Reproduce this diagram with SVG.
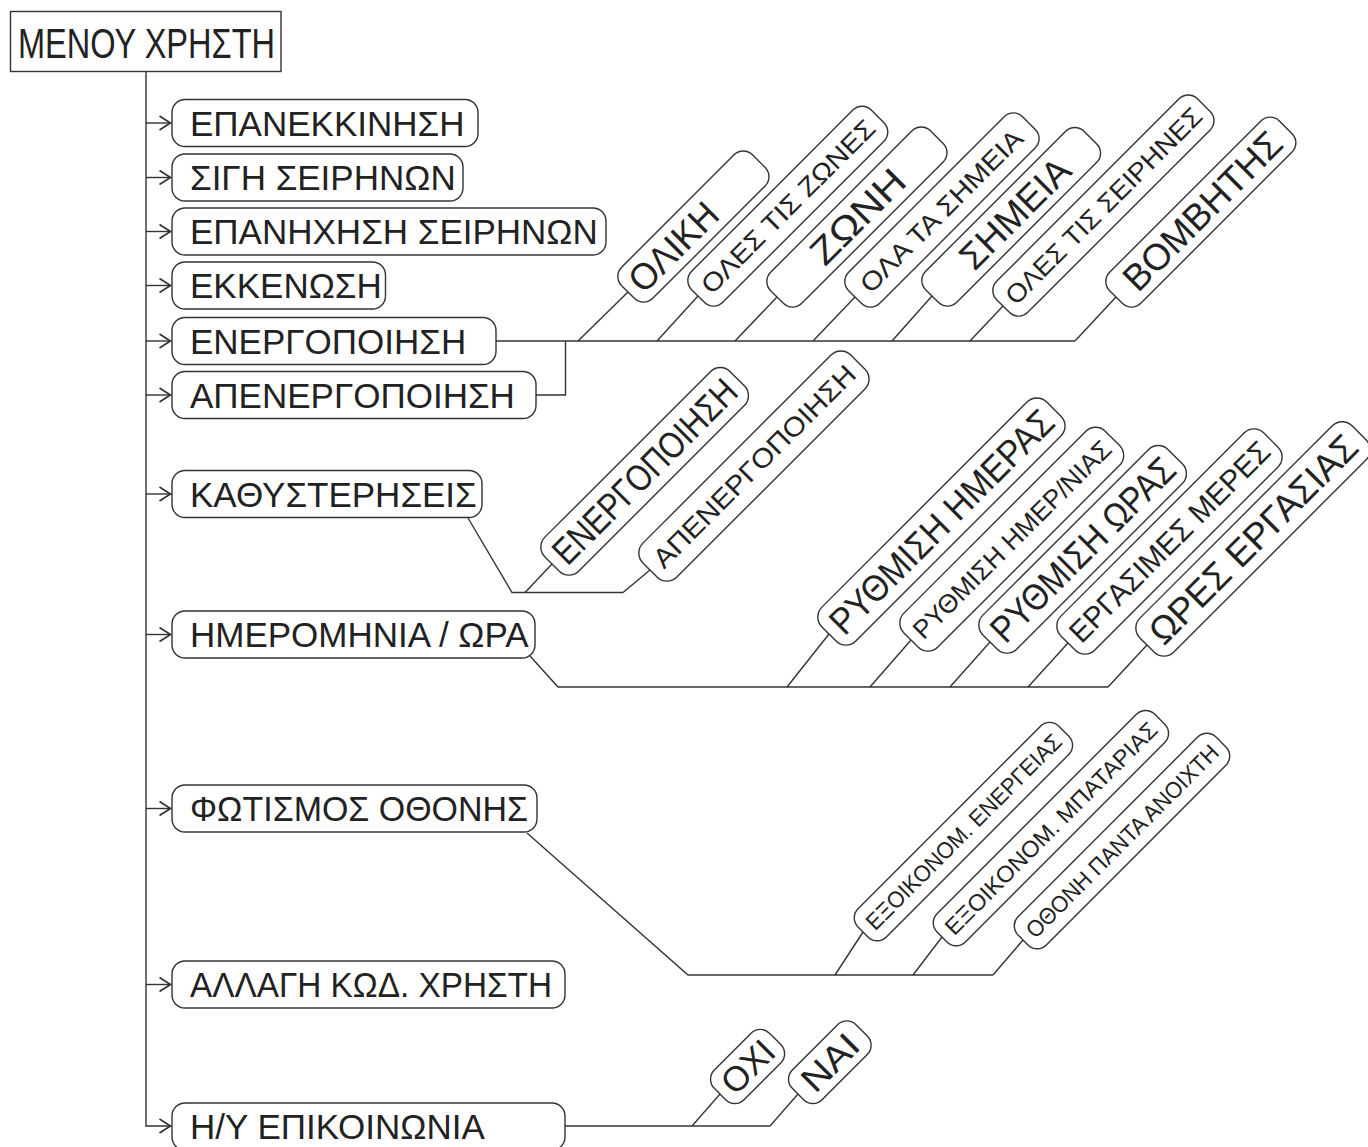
<svg xmlns="http://www.w3.org/2000/svg" width="1368" height="1147" viewBox="0 0 1368 1147">
<style>
.bg{fill:#fff}
.hdr{fill:#fff;stroke:#333;stroke-width:1.4}
.box{fill:#fff;stroke:#333;stroke-width:1.4}
.lbl{font-family:"Liberation Sans",Arial,sans-serif;font-size:35px;fill:#222}
.rl{font-family:"Liberation Sans",Arial,sans-serif;fill:#222}
.conn{fill:none;stroke:#333;stroke-width:1.4}
</style>
<defs>
<marker id="arr" viewBox="0 0 13 16" refX="12.5" refY="8" markerWidth="13" markerHeight="16" markerUnits="userSpaceOnUse" orient="auto">
<path d="M1,1 L12,8 L1,15" fill="none" stroke="#333" stroke-width="1.8"/>
</marker>
</defs>
<rect class="bg" x="0" y="0" width="1368" height="1147"/>

<g id="connectors">
<path class="conn" d="M146,72 V1126 H171" marker-end="url(#arr)"/>
<path class="conn" d="M146,123 H171" marker-end="url(#arr)"/>
<path class="conn" d="M146,177.5 H171" marker-end="url(#arr)"/>
<path class="conn" d="M146,231.5 H171" marker-end="url(#arr)"/>
<path class="conn" d="M146,285.5 H171" marker-end="url(#arr)"/>
<path class="conn" d="M146,341 H171" marker-end="url(#arr)"/>
<path class="conn" d="M146,395 H171" marker-end="url(#arr)"/>
<path class="conn" d="M146,494 H171" marker-end="url(#arr)"/>
<path class="conn" d="M146,634.5 H171" marker-end="url(#arr)"/>
<path class="conn" d="M146,808.5 H171" marker-end="url(#arr)"/>
<path class="conn" d="M146,984.5 H171" marker-end="url(#arr)"/>

<path class="conn" d="M496,341 H1075"/>
<path class="conn" d="M536,395 H565.5 V341"/>
<path class="conn" d="M578,341 L628,292"/>
<path class="conn" d="M657,341 L698,296"/>
<path class="conn" d="M735,341 L777,297"/>
<path class="conn" d="M813,341 L855,297"/>
<path class="conn" d="M892,341 L932,296"/>
<path class="conn" d="M970,341 L1003,306"/>
<path class="conn" d="M1075,341 L1116,297"/>

<path class="conn" d="M468,518 L512,592.5 H623"/>
<path class="conn" d="M525,592.5 L552,564"/>
<path class="conn" d="M623,592.5 L650,570"/>

<path class="conn" d="M530,656 L558,687 H1108"/>
<path class="conn" d="M787,687 L829,634"/>
<path class="conn" d="M870,687 L911,640"/>
<path class="conn" d="M950,687 L990,642"/>
<path class="conn" d="M1028,687 L1068,643"/>
<path class="conn" d="M1108,687 L1147,645"/>

<path class="conn" d="M527,833 L688,975 H993"/>
<path class="conn" d="M835,975 L863,932"/>
<path class="conn" d="M913,975 L942,937"/>
<path class="conn" d="M993,975 L1023,940"/>

<path class="conn" d="M565,1126 H770"/>
<path class="conn" d="M692,1126 L720,1094"/>
<path class="conn" d="M770,1126 L798,1094"/>
</g>

<g id="header">
<rect class="hdr" x="10.5" y="11.5" width="270.5" height="60"/>
<text class="lbl" x="18" y="57.5" style="font-size:42px" textLength="257" lengthAdjust="spacingAndGlyphs">ΜΕΝΟΥ ΧΡΗΣΤΗ</text>
</g>

<g id="n1"><rect class="box" x="172" y="99.5" width="306" height="47" rx="13"/><text class="lbl" x="190" y="135.5">ΕΠΑΝΕΚΚΙΝΗΣΗ</text></g>
<g id="n2"><rect class="box" x="172" y="154" width="291" height="47" rx="13"/><text class="lbl" x="190" y="190">ΣΙΓΗ ΣΕΙΡΗΝΩΝ</text></g>
<g id="n3"><rect class="box" x="172" y="208" width="434" height="47" rx="13"/><text class="lbl" x="190" y="244">ΕΠΑΝΗΧΗΣΗ ΣΕΙΡΗΝΩΝ</text></g>
<g id="n4"><rect class="box" x="172" y="262" width="213.5" height="47" rx="13"/><text class="lbl" x="190" y="298">ΕΚΚΕΝΩΣΗ</text></g>
<g id="n5"><rect class="box" x="172" y="317.5" width="324" height="47" rx="13"/><text class="lbl" x="190" y="353.5">ΕΝΕΡΓΟΠΟΙΗΣΗ</text></g>
<g id="n6"><rect class="box" x="172" y="371.5" width="364" height="47" rx="13"/><text class="lbl" x="190" y="407.5">ΑΠΕΝΕΡΓΟΠΟΙΗΣΗ</text></g>
<g id="n7"><rect class="box" x="172" y="470.5" width="310" height="47" rx="13"/><text class="lbl" x="190" y="506.5">ΚΑΘΥΣΤΕΡΗΣΕΙΣ</text></g>
<g id="n8"><rect class="box" x="172" y="611" width="363" height="47" rx="13"/><text class="lbl" x="190" y="647">ΗΜΕΡΟΜΗΝΙΑ / ΩΡΑ</text></g>
<g id="n9"><rect class="box" x="172" y="785" width="365" height="47" rx="13"/><text class="lbl" x="190" y="821" textLength="338" lengthAdjust="spacingAndGlyphs">ΦΩΤΙΣΜΟΣ ΟΘΟΝΗΣ</text></g>
<g id="n10"><rect class="box" x="172" y="961" width="393" height="47" rx="13"/><text class="lbl" x="190" y="997" textLength="362" lengthAdjust="spacingAndGlyphs">ΑΛΛΑΓΗ ΚΩΔ. ΧΡΗΣΤΗ</text></g>
<g id="n11"><rect class="box" x="172" y="1103" width="393" height="47" rx="13"/><text class="lbl" x="190" y="1139">Η/Υ ΕΠΙΚΟΙΝΩΝΙΑ</text></g>

<g id="r1" transform="translate(628,292) rotate(-45)"><rect class="box" x="0" y="-22" width="185" height="44" rx="13"/><text class="rl" x="9" y="13" font-size="37" textLength="110" lengthAdjust="spacingAndGlyphs">ΟΛΙΚΗ</text></g>
<g id="r2" transform="translate(698,296) rotate(-45)"><rect class="box" x="0" y="-22" width="254" height="44" rx="13"/><text class="rl" x="127" y="9.3" font-size="26" text-anchor="middle" textLength="234" lengthAdjust="spacingAndGlyphs">ΟΛΕΣ ΤΙΣ ΖΩΝΕΣ</text></g>
<g id="r3" transform="translate(777,297) rotate(-45)"><rect class="box" x="0" y="-22" width="226" height="44" rx="13"/><text class="rl" x="114" y="13" font-size="37" text-anchor="middle" textLength="118" lengthAdjust="spacingAndGlyphs">ΖΩΝΗ</text></g>
<g id="r4" transform="translate(855,297) rotate(-45)"><rect class="box" x="0" y="-22" width="246" height="44" rx="13"/><text class="rl" x="122" y="9.3" font-size="26" text-anchor="middle" textLength="218" lengthAdjust="spacingAndGlyphs">ΟΛΑ ΤΑ ΣΗΜΕΙΑ</text></g>
<g id="r5" transform="translate(932,296) rotate(-45)"><rect class="box" x="0" y="-22" width="224" height="44" rx="13"/><text class="rl" x="117" y="13" font-size="37" text-anchor="middle" textLength="140" lengthAdjust="spacingAndGlyphs">ΣΗΜΕΙΑ</text></g>
<g id="r6" transform="translate(1003,306) rotate(-45)"><rect class="box" x="0" y="-22" width="284" height="44" rx="13"/><text class="rl" x="142" y="9.3" font-size="26" text-anchor="middle" textLength="266" lengthAdjust="spacingAndGlyphs">ΟΛΕΣ ΤΙΣ ΣΕΙΡΗΝΕΣ</text></g>
<g id="r7" transform="translate(1116,297) rotate(-45)"><rect class="box" x="0" y="-22" width="240" height="44" rx="13"/><text class="rl" x="122" y="13" font-size="37" text-anchor="middle" textLength="208" lengthAdjust="spacingAndGlyphs">ΒΟΜΒΗΤΗΣ</text></g>

<g id="r8" transform="translate(552,564) rotate(-45)"><rect class="box" x="0" y="-24" width="262" height="48" rx="14"/><text class="rl" x="131" y="13" font-size="37" text-anchor="middle" textLength="244" lengthAdjust="spacingAndGlyphs">ΕΝΕΡΓΟΠΟΙΗΣΗ</text></g>
<g id="r9" transform="translate(650,570) rotate(-45)"><rect class="box" x="0" y="-24" width="294" height="48" rx="14"/><text class="rl" x="147" y="9.8" font-size="27" text-anchor="middle" textLength="274" lengthAdjust="spacingAndGlyphs">ΑΠΕΝΕΡΓΟΠΟΙΗΣΗ</text></g>

<g id="r10" transform="translate(829,634) rotate(-45)"><rect class="box" x="0" y="-24" width="318" height="48" rx="14"/><text class="rl" x="159" y="13" font-size="37" text-anchor="middle" textLength="300" lengthAdjust="spacingAndGlyphs">ΡΥΘΜΙΣΗ ΗΜΕΡΑΣ</text></g>
<g id="r11" transform="translate(911,640) rotate(-45)"><rect class="box" x="0" y="-24" width="285" height="48" rx="14"/><text class="rl" x="142.5" y="9.3" font-size="26" text-anchor="middle" textLength="268" lengthAdjust="spacingAndGlyphs">ΡΥΘΜΙΣΗ ΗΜΕΡ/ΝΙΑΣ</text></g>
<g id="r12" transform="translate(990,642) rotate(-45)"><rect class="box" x="0" y="-24" width="262" height="48" rx="14"/><text class="rl" x="131" y="13" font-size="37" text-anchor="middle" textLength="244" lengthAdjust="spacingAndGlyphs">ΡΥΘΜΙΣΗ ΩΡΑΣ</text></g>
<g id="r13" transform="translate(1068,643) rotate(-45)"><rect class="box" x="0" y="-24" width="287" height="48" rx="14"/><text class="rl" x="143.5" y="10.5" font-size="30" text-anchor="middle" textLength="270" lengthAdjust="spacingAndGlyphs">ΕΡΓΑΣΙΜΕΣ ΜΕΡΕΣ</text></g>
<g id="r14" transform="translate(1147,645) rotate(-45)"><rect class="box" x="0" y="-24" width="300" height="48" rx="14"/><text class="rl" x="150" y="13" font-size="37" text-anchor="middle" textLength="278" lengthAdjust="spacingAndGlyphs">ΩΡΕΣ ΕΡΓΑΣΙΑΣ</text></g>

<g id="r15" transform="translate(863,932) rotate(-45)"><rect class="box" x="0" y="-20" width="284" height="40" rx="13"/><text class="rl" x="142" y="8.2" font-size="23" text-anchor="middle" textLength="266" lengthAdjust="spacingAndGlyphs">ΕΞΟΙΚΟΝΟΜ. ΕΝΕΡΓΕΙΑΣ</text></g>
<g id="r16" transform="translate(942,937) rotate(-45)"><rect class="box" x="0" y="-20" width="308" height="40" rx="13"/><text class="rl" x="154" y="8.2" font-size="23" text-anchor="middle" textLength="290" lengthAdjust="spacingAndGlyphs">ΕΞΟΙΚΟΝΟΜ. ΜΠΑΤΑΡΙΑΣ</text></g>
<g id="r17" transform="translate(1023,940) rotate(-45)"><rect class="box" x="0" y="-20" width="280" height="40" rx="13"/><text class="rl" x="140" y="8.2" font-size="23" text-anchor="middle" textLength="262" lengthAdjust="spacingAndGlyphs">ΟΘΟΝΗ ΠΑΝΤΑ ΑΝΟΙΧΤΗ</text></g>

<g id="r18" transform="translate(720,1094) rotate(-45)"><rect class="box" x="0" y="-21" width="78" height="42" rx="13"/><text class="rl" x="39" y="12.5" font-size="35" text-anchor="middle" textLength="60" lengthAdjust="spacingAndGlyphs">ΟΧΙ</text></g>
<g id="r19" transform="translate(798,1094) rotate(-45)"><rect class="box" x="0" y="-21" width="90" height="42" rx="13"/><text class="rl" x="45" y="12.5" font-size="35" text-anchor="middle" textLength="66" lengthAdjust="spacingAndGlyphs">ΝΑΙ</text></g>
</svg>
